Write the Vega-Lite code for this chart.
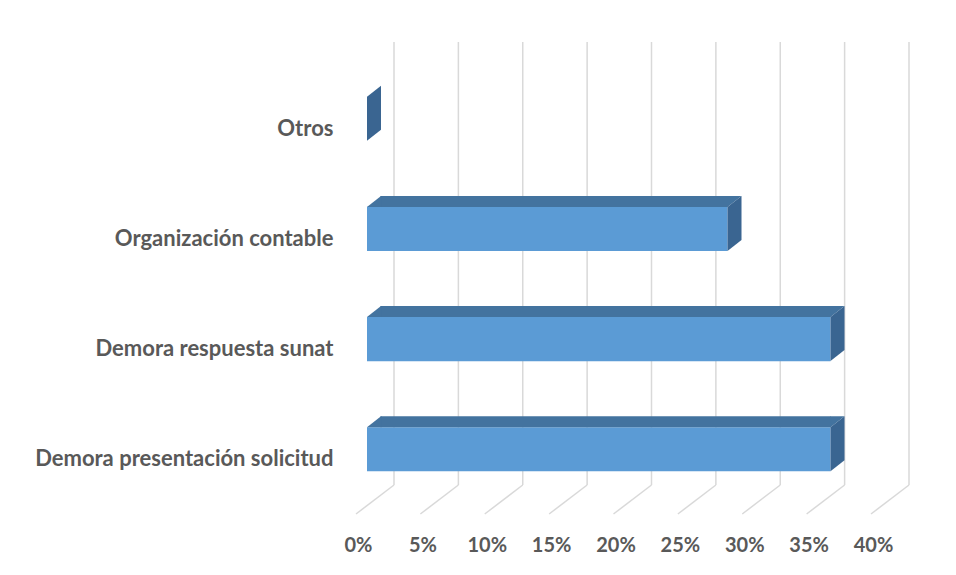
{
  "$schema": "https://vega.github.io/schema/vega-lite/v6.json",
  "autosize": "none",
  "width": 515,
  "height": 443,
  "padding": {"left": 394, "top": 42, "right": 47, "bottom": 90},
  "background": "white",
  "config": {
    "view": {"stroke": null},
    "axisX": {"domain": false, "ticks": false, "grid": false, "labelOffset": -36, "labelPadding": 50, "labelFont": "Lato", "labelFontSize": 20, "labelFontWeight": "bold", "labelColor": "#595959", "labelFlush": false, "labelOverlap": false},
    "axisY": {"domain": false, "ticks": false, "grid": false, "labelOffset": 10, "labelPadding": 61, "labelFont": "Lato", "labelFontSize": 22, "labelFontWeight": "bold", "labelColor": "#595959", "labelLimit": 500}
  },
  "datasets": {
    "bars": [
      {"cat": "Demora presentación solicitud", "value": 0.36},
      {"cat": "Demora respuesta sunat", "value": 0.36},
      {"cat": "Organización contable", "value": 0.28},
      {"cat": "Otros", "value": 0}
    ],
    "grid": [
      {"v": 0}, {"v": 0.05}, {"v": 0.1}, {"v": 0.15}, {"v": 0.2}, {"v": 0.25}, {"v": 0.3}, {"v": 0.35}, {"v": 0.4}
    ]
  },
  "layer": [
    {
      "data": {"name": "grid"},
      "mark": {"type": "rule", "color": "#D9D9D9", "strokeWidth": 1.5},
      "encoding": {
        "x": {"field": "v", "type": "quantitative", "scale": {"domain": [0, 0.4], "nice": false}, "axis": {"values": [0, 0.05, 0.1, 0.15, 0.2, 0.25, 0.3, 0.35, 0.4], "format": ".0%"}, "title": null}
      }
    },
    {
      "data": {"name": "grid"},
      "mark": {"type": "rule", "color": "#D9D9D9", "strokeWidth": 1.5, "x2Offset": -38},
      "encoding": {
        "x": {"field": "v", "type": "quantitative", "title": null},
        "x2": {"field": "v"},
        "y": {"value": {"expr": "height"}},
        "y2": {"value": {"expr": "height + 29"}}
      }
    },
    {
      "data": {"name": "bars"},
      "mark": {"type": "bar", "color": "#5B9BD5", "xOffset": -27, "x2Offset": -27},
      "encoding": {
        "x": {"field": "value", "type": "quantitative", "title": null},
        "x2": {"datum": 0},
        "y": {"field": "cat", "type": "nominal", "sort": ["Otros", "Organización contable", "Demora respuesta sunat", "Demora presentación solicitud"], "scale": {"paddingInner": 0.6, "paddingOuter": 0.31, "align": 0.8}, "title": null}
      }
    },
    {
      "data": {"name": "bars"},
      "transform": [{"filter": "datum.value > 0"}],
      "mark": {"type": "bar", "color": "#43739F", "xOffset": -27, "x2Offset": -13.5, "height": 11, "yOffset": -27.5},
      "encoding": {
        "x": {"field": "value", "type": "quantitative", "title": null},
        "x2": {"datum": 0},
        "y": {"field": "cat", "type": "nominal", "sort": ["Otros", "Organización contable", "Demora respuesta sunat", "Demora presentación solicitud"], "title": null}
      }
    },
    {
      "data": {"name": "bars"},
      "transform": [{"filter": "datum.value > 0"}],
      "mark": {"type": "point", "shape": "M0,-22L14.5,-22L14.5,-33L14,-33Z", "size": 4, "filled": true, "opacity": 1, "color": "#43739F", "xOffset": -27},
      "encoding": {
        "x": {"datum": 0, "type": "quantitative"},
        "y": {"field": "cat", "type": "nominal", "sort": ["Otros", "Organización contable", "Demora respuesta sunat", "Demora presentación solicitud"], "title": null}
      }
    },
    {
      "data": {"name": "bars"},
      "transform": [{"filter": "datum.value > 0"}],
      "mark": {"type": "point", "shape": "M-0.5,-22L0,-22L14,-33L-0.5,-33Z", "size": 4, "filled": true, "opacity": 1, "color": "#43739F", "xOffset": -27},
      "encoding": {
        "x": {"field": "value", "type": "quantitative", "title": null},
        "y": {"field": "cat", "type": "nominal", "sort": ["Otros", "Organización contable", "Demora respuesta sunat", "Demora presentación solicitud"], "title": null}
      }
    },
    {
      "data": {"name": "bars"},
      "mark": {"type": "point", "shape": "M0,-22L14,-33L14,11L0,22Z", "size": 4, "filled": true, "opacity": 1, "color": "#3A6591", "xOffset": -27},
      "encoding": {
        "x": {"field": "value", "type": "quantitative", "title": null},
        "y": {"field": "cat", "type": "nominal", "sort": ["Otros", "Organización contable", "Demora respuesta sunat", "Demora presentación solicitud"], "title": null}
      }
    }
  ]
}
